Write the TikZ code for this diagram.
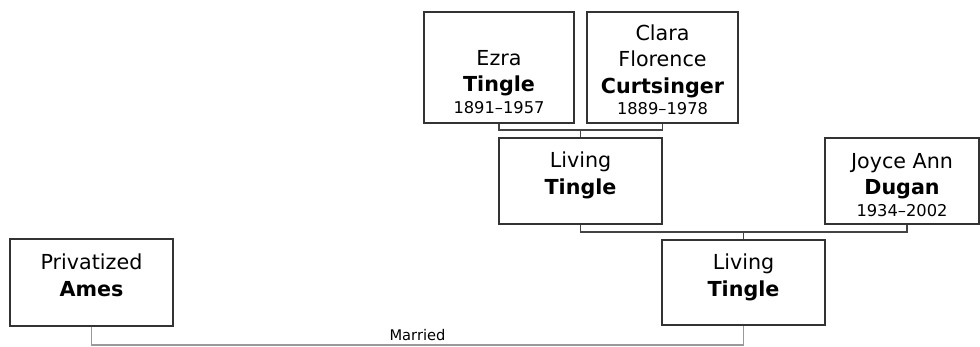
\documentclass[tikz,border=0pt]{standalone}
\usepackage{fontspec}
\setmainfont{DejaVu Sans}
\definecolor{boxline}{HTML}{333333}
\definecolor{linkline}{HTML}{444444}
\definecolor{marline}{HTML}{999999}
\begin{document}
\begin{tikzpicture}[x=0.75pt,y=-0.75pt,
  person/.style={draw=boxline,line width=1.1pt,fill=white,inner sep=0pt,rectangle},
  txt/.style={anchor=north,inner sep=0pt,align=center,font=\fontsize{15.5}{19.8}\selectfont},
  link/.style={draw=linkline,line width=1.1pt},
  marlink/.style={draw=marline,line width=1.1pt},
  mlabel/.style={anchor=base,inner sep=0pt,font=\fontsize{11}{13}\selectfont}]
\useasboundingbox (0,0) rectangle (980,346);
\newcommand{\dt}[1]{{\fontsize{12.2}{15}\selectfont #1}}
% boxes
\node[person,minimum width=112.5pt,minimum height=83.25pt] (ezra) at (499,67.5) {};
\node[person,minimum width=113.25pt,minimum height=83.25pt] (clara) at (662.5,67.5) {};
\node[person,minimum width=122.25pt,minimum height=64.5pt] (livm) at (580.5,181) {};
\node[person,minimum width=115.5pt,minimum height=64.5pt] (joyce) at (902,181) {};
\node[person,minimum width=122.25pt,minimum height=65.25pt] (priv) at (91.5,282.5) {};
\node[person,minimum width=122.25pt,minimum height=63.75pt] (livb) at (743.5,282.5) {};
% texts
\node[txt] (ezraT) at (499,50) {Ezra\\\textbf{Tingle}\\[-3.8pt]\dt{1891–1957}};
\node[txt] (claraT) at (662.5,24.5) {Clara\\Florence\\\textbf{Curtsinger}\\[-3.8pt]\dt{1889–1978}};
\node[txt] (livmT) at (580.5,152) {Living\\\textbf{Tingle}};
\node[txt] (joyceT) at (902,153) {Joyce Ann\\\textbf{Dugan}\\[-3.8pt]\dt{1934–2002}};
\node[txt] (privT) at (91.5,254) {Privatized\\\textbf{Ames}};
\node[txt] (livbT) at (743.5,254) {Living\\\textbf{Tingle}};
% connectors
\coordinate (famA) at (580.5,130);
\draw[link] (ezra.south) |- (famA) -| (clara.south);
\draw[link] (famA) -- (livm.north);
\coordinate (famB) at (743.5,232);
\draw[link] (livm.south) |- (famB) -| ([xshift=3.75pt]joyce.south);
\draw[link] (famB) -- (livb.north);
\coordinate (mar) at (417.5,345);
\draw[marlink] (priv.south) |- (mar) -| (livb.south);
\node[mlabel] (marT) at (417.5,340) {Married};
\end{tikzpicture}
\end{document}
